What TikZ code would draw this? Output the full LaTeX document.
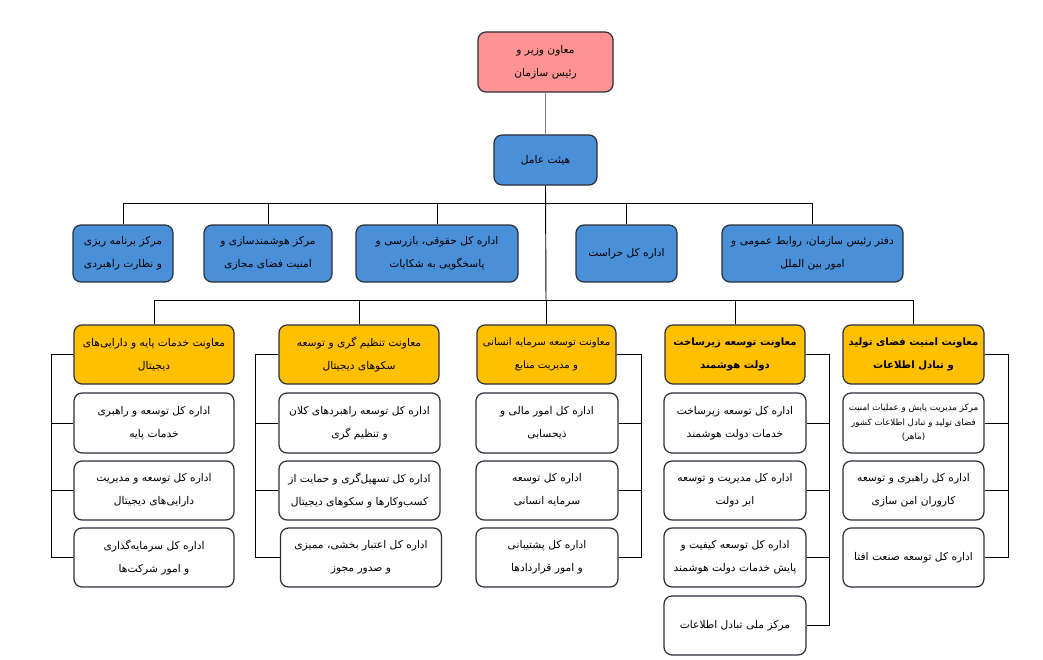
\documentclass[tikz,border=0pt]{standalone}
\usepackage{fontspec}
\newfontfamily\arabicfont[Script=Arabic]{DejaVu Sans}
\TeXXeTstate=1
\newcommand\ar[1]{\beginR #1\endR}
\definecolor{pinkc}{HTML}{FF9393}
\definecolor{bluec}{HTML}{4A90D9}
\definecolor{yelc}{HTML}{FFC000}
\definecolor{edgec}{HTML}{2A2F38}
\tikzset{
  box/.style={draw=edgec, line width=0.9pt, rounded corners=6pt, align=center, inner sep=0pt,
    font=\arabicfont\fontsize{8}{17}\selectfont},
  pinkbox/.style={box, fill=pinkc},
  bluebox/.style={box, fill=bluec},
  yelbox/.style={box, fill=yelc},
  boldyel/.style={yelbox, font=\arabicfont\bfseries\fontsize{7.6}{17}\selectfont},
  whitebox/.style={box, fill=white},
  conn/.style={draw=black, line width=0.7pt},
  graycon/.style={draw=gray, line width=0.9pt},
}
\begin{document}
\begin{tikzpicture}[x=0.75pt,y=-0.75pt]
\fill[white] (0,0) rectangle (1043,660);
\useasboundingbox (0,0) rectangle (1043,660);

% top
\node[pinkbox, minimum width=101.25pt, minimum height=45pt] (T) at (545.5,62) {\ar{معاون وزیر و}\\\ar{رئیس سازمان}};
\node[bluebox, minimum width=77.25pt, minimum height=37.5pt] (H) at (545.5,160) {\ar{هیئت عامل}};

% blue row
\node[bluebox, minimum width=75pt, minimum height=42.75pt] (B1) at (123,253.5) {\ar{مرکز برنامه ریزی}\\\ar{و نظارت راهبردی}};
\node[bluebox, minimum width=96pt, minimum height=42.75pt] (B2) at (268,253.5) {\ar{مرکز هوشمندسازی و}\\\ar{امنیت فضای مجازی}};
\node[bluebox, minimum width=121.5pt, minimum height=42.75pt] (B3) at (437,253.5) {\ar{اداره کل حقوقی، بازرسی و}\\\ar{پاسخگویی به شکایات}};
\node[bluebox, minimum width=75.75pt, minimum height=42.75pt] (B4) at (626.5,253.5) {\ar{اداره کل حراست}};
\node[bluebox, minimum width=135.75pt, minimum height=42.75pt] (B5) at (812.5,253.5) {\ar{دفتر رئیس سازمان، روابط عمومی و}\\\ar{امور بین الملل}};

% yellow row
\node[yelbox, minimum width=120pt, minimum height=44.25pt] (Y1) at (154,354.5) {\ar{معاونت خدمات پایه و دارایی‌های}\\\ar{دیجیتال}};
\node[yelbox, minimum width=120pt, minimum height=44.25pt] (Y2) at (359,354.5) {\ar{معاونت تنظیم گری و توسعه}\\\ar{سکوهای دیجیتال}};
\node[yelbox, minimum width=104.25pt, minimum height=44.25pt, font=\arabicfont\fontsize{7.6}{17}\selectfont] (Y3) at (546.5,354.5) {\ar{معاونت توسعه سرمایه انسانی}\\\ar{و مدیریت منابع}};
\node[boldyel, minimum width=105pt, minimum height=44.25pt] (Y4) at (735,354.5) {\ar{معاونت توسعه زیرساخت}\\\ar{دولت هوشمند}};
\node[boldyel, minimum width=105.75pt, minimum height=44.25pt] (Y5) at (913.5,354.5) {\ar{معاونت امنیت فضای تولید}\\\ar{و تبادل اطلاعات}};

% column 1
\node[whitebox, minimum width=120pt, minimum height=45pt] (C11) at (154,423) {\ar{اداره کل توسعه و راهبری}\\\ar{خدمات پایه}};
\node[whitebox, minimum width=120pt, minimum height=44.25pt] (C12) at (154,490.5) {\ar{اداره کل توسعه و مدیریت}\\\ar{دارایی‌های دیجیتال}};
\node[whitebox, minimum width=120pt, minimum height=44.25pt] (C13) at (154,557.5) {\ar{اداره کل سرمایه‌گذاری}\\\ar{و امور شرکت‌ها}};
% column 2
\node[whitebox, minimum width=120.75pt, minimum height=45pt] (C21) at (359.5,423) {\ar{اداره کل توسعه راهبردهای کلان}\\\ar{و تنظیم گری}};
\node[whitebox, minimum width=120.75pt, minimum height=44.25pt] (C22) at (359.5,490.5) {\ar{اداره کل تسهیل‌گری و حمایت از}\\\ar{کسب‌وکارها و سکوهای دیجیتال}};
\node[whitebox, minimum width=120.75pt, minimum height=44.25pt] (C23) at (361,557.5) {\ar{اداره کل اعتبار بخشی، ممیزی}\\\ar{و صدور مجوز}};
% column 3
\node[whitebox, minimum width=106.5pt, minimum height=45pt] (C31) at (547,423) {\ar{اداره کل امور مالی و}\\\ar{ذیحسابی}};
\node[whitebox, minimum width=106.5pt, minimum height=44.25pt] (C32) at (547,490.5) {\ar{اداره کل توسعه}\\\ar{سرمایه انسانی}};
\node[whitebox, minimum width=106.5pt, minimum height=44.25pt] (C33) at (547,557.5) {\ar{اداره کل پشتیبانی}\\\ar{و امور قراردادها}};
% column 4
\node[whitebox, minimum width=106.5pt, minimum height=45pt] (C41) at (735,423) {\ar{اداره کل توسعه زیرساخت}\\\ar{خدمات دولت هوشمند}};
\node[whitebox, minimum width=106.5pt, minimum height=44.25pt] (C42) at (735,490.5) {\ar{اداره کل مدیریت و توسعه}\\\ar{ابر دولت}};
\node[whitebox, minimum width=106.5pt, minimum height=44.25pt] (C43) at (735,557.5) {\ar{اداره کل توسعه کیفیت و}\\\ar{پایش خدمات دولت هوشمند}};
\node[whitebox, minimum width=106.5pt, minimum height=44.25pt] (C44) at (735,625.5) {\ar{مرکز ملی تبادل اطلاعات}};
% column 5
\node[whitebox, minimum width=105.75pt, minimum height=45pt, font=\arabicfont\fontsize{6.5}{11}\selectfont] (C51) at (913.5,423) {\ar{مرکز مدیریت پایش و عملیات امنیت}\\\ar{فضای تولید و تبادل اطلاعات کشور}\\\ar{(ماهر)}};
\node[whitebox, minimum width=105.75pt, minimum height=44.25pt] (C52) at (913.5,490.5) {\ar{اداره کل راهبری و توسعه}\\\ar{کاروران امن سازی}};
\node[whitebox, minimum width=105.75pt, minimum height=44.25pt] (C53) at (913.5,557.5) {\ar{اداره کل توسعه صنعت افتا}};

% hubs
\coordinate (hubA) at (546,203);
\coordinate (hubB) at (546,300);

\draw[graycon] (T.south) -- (H.north);
\draw[conn] (H.south) -- (hubB);
\foreach \n in {B1,B2,B3,B4,B5} \draw[conn] (\n.north) |- (hubA);
\foreach \n in {Y1,Y2,Y3,Y4,Y5} \draw[conn] (\n.north) |- (hubB);

% brackets
\coordinate (k1) at (51,354.5);
\draw[conn] (Y1.west) -- (k1) |- (C13.west);
\foreach \n in {C11,C12} \draw[conn] (k1 |- \n.west) -- (\n.west);

\coordinate (k2) at (255,354.5);
\draw[conn] (Y2.west) -- (k2) |- (C23.west);
\foreach \n in {C21,C22} \draw[conn] (k2 |- \n.west) -- (\n.west);

\coordinate (k3) at (641,354.5);
\draw[conn] (Y3.east) -- (k3) |- (C33.east);
\foreach \n in {C31,C32} \draw[conn] (k3 |- \n.east) -- (\n.east);

\coordinate (k4) at (829,354.5);
\draw[conn] (Y4.east) -- (k4) |- (C44.east);
\foreach \n in {C41,C42,C43} \draw[conn] (k4 |- \n.east) -- (\n.east);

\coordinate (k5) at (1008,354.5);
\draw[conn] (Y5.east) -- (k5) |- (C53.east);
\foreach \n in {C51,C52} \draw[conn] (k5 |- \n.east) -- (\n.east);
\end{tikzpicture}
\end{document}
